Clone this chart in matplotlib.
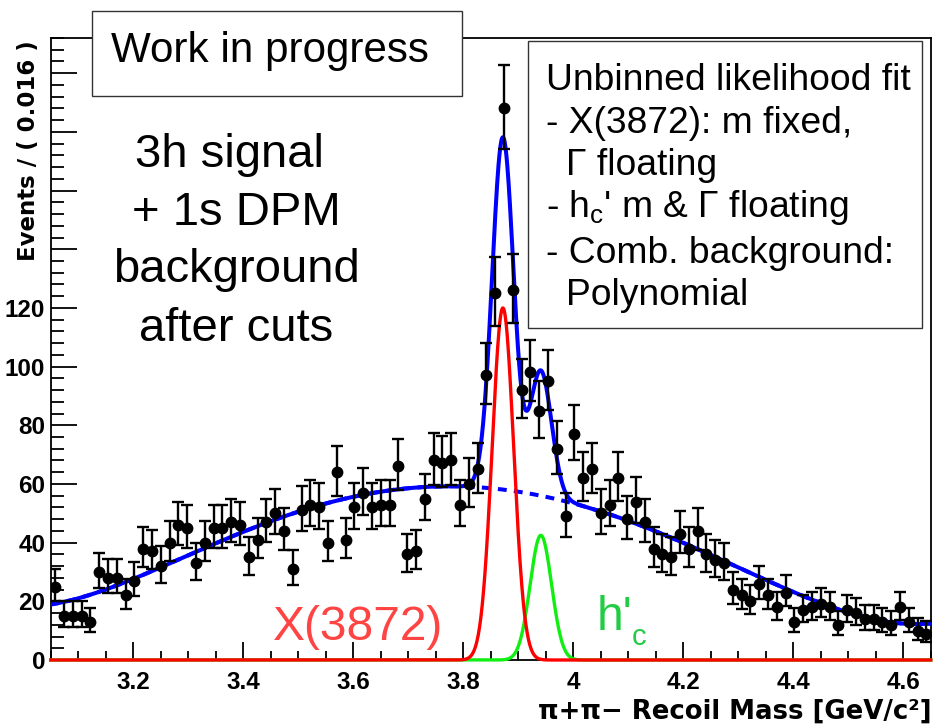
import numpy as np
import matplotlib
matplotlib.use("Agg")
import matplotlib.pyplot as plt
from matplotlib.ticker import FixedLocator, MultipleLocator, FuncFormatter
from matplotlib.patches import Rectangle

plt.rcParams['font.family'] = ['Liberation Sans', 'DejaVu Sans']
plt.rcParams['mathtext.fontset'] = 'custom'
plt.rcParams['mathtext.rm'] = 'Liberation Sans'
plt.rcParams['mathtext.it'] = 'Liberation Sans'

# ---- data: histogram of pi+pi- recoil mass, 100 bins of 0.016 GeV from 3.05 ----
x_min = 3.05
x_max = 4.65
bin_width = 0.016
counts = np.array([
    25, 15, 15, 15, 13, 30, 28, 28, 22, 27,
    38, 37, 32, 40, 46, 45, 33, 40, 45, 45,
    47, 46, 35, 41, 47, 50, 44, 31, 51, 53,
    52, 40, 64, 41, 52, 57, 52, 53, 53, 66,
    36, 37, 55, 68, 67, 68, 53, 60, 65, 97,
    125, 188, 126, 92, 98, 85, 95, 72, 49, 77,
    62, 65, 50, 53, 62, 48, 54, 47, 38, 36,
    35, 43, 38, 44, 36, 34, 33, 24, 22, 20,
    26, 22, 18, 23, 13, 17, 18, 19, 18, 12,
    17, 16, 14, 14, 13, 12, 18, 13, 10, 9,
], dtype=float)

# ---- fit model components ----
bg_nodes_x = [3.05, 3.20, 3.30, 3.40, 3.50, 3.60, 3.70, 3.80, 3.90, 4.00,
              4.10, 4.20, 4.30, 4.40, 4.50, 4.60, 4.65]
bg_nodes_y = [19.0, 27.2, 36.3, 43.7, 50.2, 55.5, 58.7, 59.6, 57.0, 53.0,
              47.5, 40.6, 31.5, 22.5, 16.4, 12.8, 12.2]
bg_poly_degree = 6

x3872_mean, x3872_sigma, x3872_amp = 3.872, 0.0195, 120.0
hc_mean, hc_sigma, hc_amp = 3.941, 0.0195, 42.5

y_max = 212
y_major = [0, 20, 40, 60, 80, 100, 120, 140, 160, 180, 200]
y_labelled_max = 120
x_major = [3.2, 3.4, 3.6, 3.8, 4.0, 4.2, 4.4, 4.6]

# ---- figure ----
W, H = 935, 727
fig = plt.figure(figsize=(W / 100, H / 100), dpi=100)

def fx(px):
    return px / W

def fy(py):
    return 1 - py / H

ax_left, ax_right, ax_top, ax_bottom = 50.8, 930.8, 38, 660
ax = fig.add_axes([fx(ax_left), fy(ax_bottom), (ax_right - ax_left) / W, (ax_bottom - ax_top) / H])

centers = x_min + bin_width * (np.arange(len(counts)) + 0.5)
lo = counts * (1 - 1 / (9 * counts) - 1 / (3 * np.sqrt(counts))) ** 3
hi = counts + np.sqrt(counts + 0.75) + 1
yerr = np.vstack([counts - lo, hi - counts])

xs = np.linspace(x_min, x_max, 2000)
xn = (np.array(bg_nodes_x) - 3.85) / 0.8
coef = np.polyfit(xn, bg_nodes_y, bg_poly_degree)
bg = np.polyval(coef, (xs - 3.85) / 0.8)
gx = x3872_amp * np.exp(-0.5 * ((xs - x3872_mean) / x3872_sigma) ** 2)
gh = hc_amp * np.exp(-0.5 * ((xs - hc_mean) / hc_sigma) ** 2)
total = bg + gx + gh

ax.plot(xs, bg, color='#0000ff', lw=2.9, ls=(0, (2.2, 1.8)), zorder=2)
ax.plot(xs, total, color='#0000ff', lw=2.9, zorder=3)
ax.plot(xs, gh, color='#11ee11', lw=2.4, zorder=3.5, clip_on=False)
ax.plot(xs, gx, color='#ff0000', lw=2.4, zorder=3.6, clip_on=False)

ax.errorbar(centers, counts, yerr=yerr, fmt='o', color='black', ms=7.5,
            elinewidth=1.7, capsize=4.2, capthick=1.7, zorder=5)

ax.set_xlim(x_min, x_max)
ax.set_ylim(0, y_max)

ax.xaxis.set_major_locator(FixedLocator(x_major))
ax.xaxis.set_minor_locator(MultipleLocator(0.05))
ax.xaxis.set_major_formatter(FuncFormatter(lambda v, p: f"{round(v, 2):g}"))
ax.yaxis.set_major_locator(FixedLocator(y_major))
ax.yaxis.set_minor_locator(MultipleLocator(4))
ax.yaxis.set_major_formatter(FuncFormatter(lambda v, p: f"{int(round(v))}" if v <= y_labelled_max else ""))

ax.tick_params(axis='both', which='both', direction='in', top=False, right=False, width=1.3)
ax.tick_params(axis='y', which='major', length=19, pad=4, labelsize=17.5)
ax.tick_params(axis='y', which='minor', length=9.5)
ax.tick_params(axis='x', which='major', length=13, pad=8, labelsize=17.5)
ax.tick_params(axis='x', which='minor', length=6.5)
for lab in ax.get_xticklabels() + ax.get_yticklabels():
    lab.set_fontweight('bold')
for s in ax.spines.values():
    s.set_linewidth(1.3)

fig.text(fx(932), fy(712), "π+π− Recoil Mass [GeV/c²]", ha='right', va='center',
         fontsize=18.7, fontweight='bold', family=['DejaVu Sans'])
fig.text(fx(29), fy(40), "Events / ( 0.016 )", ha='center', va='top', rotation=90,
         fontsize=16.5, fontweight='bold', family=['DejaVu Sans'])

# "Work in progress" box
fig.add_artist(Rectangle((fx(92), fy(96)), (462 - 92) / W, (96 - 11) / H, transform=fig.transFigure,
                         facecolor='white', edgecolor='#333333', lw=1.0, zorder=10))
fig.text(fx(111), fy(62), "Work in progress", ha='left', va='baseline', fontsize=30.3, zorder=11)

# left description
left_lines = [("3h signal", 229, 167), ("+ 1s DPM", 236, 225),
              ("background", 236.5, 282), ("after cuts", 236, 341)]
for txt, cx, by in left_lines:
    fig.text(fx(cx), fy(by), txt, ha='center', va='baseline', fontsize=34, zorder=11)

# right box
fig.add_artist(Rectangle((fx(528), fy(328)), (922 - 528) / W, (328 - 41) / H, transform=fig.transFigure,
                         facecolor='white', edgecolor='#333333', lw=1.0, zorder=10))
box_lines = [("Unbinned likelihood fit", 546, 90), ("- X(3872): m fixed,", 546, 133),
             ("Γ floating", 566, 175), ("- $\\mathregular{h_c}$' m & Γ floating", 546, 217),
             ("- Comb. background:", 546, 263), ("Polynomial", 566, 305)]
for txt, lx, by in box_lines:
    fig.text(fx(lx), fy(by), txt, ha='left', va='baseline', fontsize=26.8, zorder=11)

# component labels
fig.text(fx(273), fy(640), "X(3872)", ha='left', va='baseline', fontsize=34.5, color='#ff4444', zorder=11)
fig.text(fx(597), fy(630), "h'", ha='left', va='baseline', fontsize=34.5, color='#22cc44', zorder=11)
fig.text(fx(632), fy(645), "c", ha='left', va='baseline', fontsize=21, color='#22cc44', zorder=11)

fig.savefig("out.png", dpi=100)
